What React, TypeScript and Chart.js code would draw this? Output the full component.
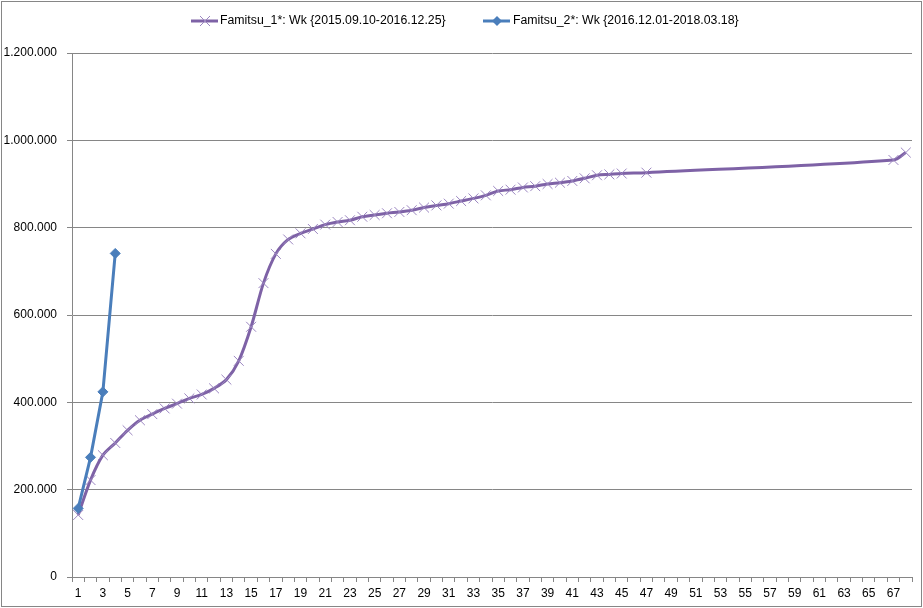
import React, { useEffect, useRef } from "react";
import { Chart, registerables } from "chart.js";

Chart.register(...registerables);

const weeks: string[] = [
  "1","2","3","4","5","6","7","8","9","10",
  "11","12","13","14","15","16","17","18","19","20",
  "21","22","23","24","25","26","27","28","29","30",
  "31","32","33","34","35","36","37","38","39","40",
  "41","42","43","44","45","46","47","48","49","50",
  "51","52","53","54","55","56","57","58","59","60",
  "61","62","63","64","65","66","67","68",
];

const famitsu1: (number | null)[] = [
  142000, 222000, 279000, 307000, 336000, 359000, 373000, 386000, 397000, 409000,
  418000, 432000, 452000, 495000, 573000, 673000, 740000, 773000, 787000, 797000,
  807000, 813000, 817000, 825000, 829000, 833000, 836000, 840000, 846000, 851000,
  855000, 861000, 867000, 874000, 884000, 887000, 892000, 895000, 900000, 903000,
  907000, 913000, 920000, 922000, 924000, null, 926000, null, null, null,
  null, null, null, null, null, null, null, null, null, null,
  null, null, null, null, null, null, 955000, 972000,
];

const famitsu2: (number | null)[] = [157000, 274000, 424000, 741000];

const label1 = "Famitsu_1*: Wk {2015.09.10-2016.12.25}";
const label2 = "Famitsu_2*: Wk {2016.12.01-2018.03.18}";

const yTicks: number[] = [0, 200000, 400000, 600000, 800000, 1000000, 1200000];

const PURPLE = "#7e62a6";
const PURPLE_MARK = "#9b86c0";
const BLUE = "#4a7ebb";
const GRID = "#868686";
const FONT = "'Liberation Sans', Arial, sans-serif";

function fmt(v: number): string {
  return String(Math.round(v)).replace(/\B(?=(\d{3})+(?!\d))/g, ".");
}

const decorPlugin = {
  id: "decor",
  afterDraw(chart: any) {
    const ctx = chart.ctx as CanvasRenderingContext2D;
    ctx.save();
    // outer border
    ctx.strokeStyle = GRID;
    ctx.lineWidth = 1;
    ctx.strokeRect(1.5, 1.5, 920, 605);
    // legend
    const y = 21;
    ctx.font = `12.3px ${FONT}`;
    ctx.fillStyle = "#000";
    ctx.textBaseline = "middle";
    // item 1
    ctx.strokeStyle = PURPLE;
    ctx.lineWidth = 3;
    ctx.beginPath();
    ctx.moveTo(191, y);
    ctx.lineTo(218, y);
    ctx.stroke();
    ctx.strokeStyle = PURPLE_MARK;
    ctx.lineWidth = 1;
    ctx.beginPath();
    ctx.moveTo(200, y - 5);
    ctx.lineTo(210, y + 5);
    ctx.moveTo(200, y + 5);
    ctx.lineTo(210, y - 5);
    ctx.stroke();
    ctx.fillText(label1, 220, y);
    // item 2
    ctx.strokeStyle = BLUE;
    ctx.lineWidth = 3;
    ctx.beginPath();
    ctx.moveTo(483, y);
    ctx.lineTo(510, y);
    ctx.stroke();
    ctx.fillStyle = BLUE;
    ctx.beginPath();
    ctx.moveTo(497, y - 5);
    ctx.lineTo(502, y);
    ctx.lineTo(497, y + 5);
    ctx.lineTo(492, y);
    ctx.closePath();
    ctx.fill();
    ctx.fillStyle = "#000";
    ctx.fillText(label2, 513, y);
    ctx.restore();
  },
};

export default function App() {
  const ref = useRef<HTMLCanvasElement | null>(null);

  useEffect(() => {
    document.body.style.margin = "0";
    const canvas = ref.current;
    if (!canvas) return;
    const chart = new Chart(canvas, {
      type: "line",
      data: {
        labels: weeks,
        datasets: [
          {
            label: label2,
            data: famitsu2,
            borderColor: BLUE,
            backgroundColor: BLUE,
            borderWidth: 3,
            pointStyle: "rectRot",
            pointRadius: 5,
            pointBorderWidth: 1,
            pointBackgroundColor: BLUE,
            pointBorderColor: BLUE,
            tension: 0,
            spanGaps: true,
          },
          {
            label: label1,
            data: famitsu1,
            borderColor: PURPLE,
            backgroundColor: PURPLE,
            borderWidth: 3,
            pointStyle: "crossRot",
            pointRadius: 7,
            pointBorderWidth: 1,
            pointBorderColor: PURPLE_MARK,
            pointBackgroundColor: PURPLE_MARK,
            tension: 0.3,
            spanGaps: true,
          },
        ],
      },
      options: {
        responsive: false,
        animation: false,
        layout: { padding: { top: 53, right: 11, left: 0, bottom: 0 } },
        plugins: {
          legend: { display: false },
          tooltip: { enabled: false },
        },
        scales: {
          x: {
            offset: true,
            grid: {
              display: true,
              offset: true,
              drawOnChartArea: false,
              drawTicks: true,
              tickLength: 5,
              color: GRID,
            },
            border: { display: true, color: GRID, width: 1 },
            ticks: {
              autoSkip: false,
              maxRotation: 0,
              padding: 4,
              color: "#000",
              font: { family: FONT, size: 12 },
              callback: (_v: any, i: number) => (i % 2 === 0 ? weeks[i] : ""),
            },
            afterFit: (s: any) => {
              s.height = 31;
            },
          },
          y: {
            min: 0,
            max: 1200000,
            afterBuildTicks: (s: any) => {
              s.ticks = yTicks.map((v) => ({ value: v }));
            },
            grid: {
              color: GRID,
              drawTicks: true,
              tickLength: 5,
            },
            border: { display: true, color: GRID, width: 1 },
            ticks: {
              padding: 10,
              color: "#000",
              font: { family: FONT, size: 12 },
              callback: (v: any) => fmt(Number(v)),
            },
            afterFit: (s: any) => {
              s.width = 72;
            },
          },
        },
      },
      plugins: [decorPlugin],
    });
    return () => chart.destroy();
  }, []);

  return (
    <div style={{ width: 923, height: 608, background: "#fff" }}>
      <canvas ref={ref} width={923} height={608} style={{ display: "block" }} />
    </div>
  );
}
